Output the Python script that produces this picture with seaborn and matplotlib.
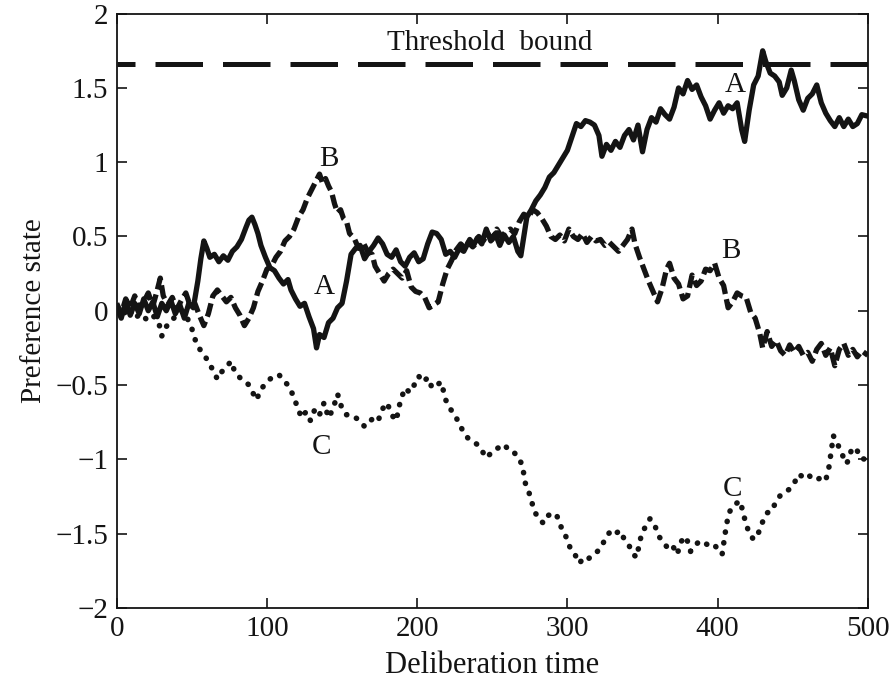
import matplotlib
matplotlib.use("Agg")
import matplotlib.pyplot as plt
import matplotlib.ticker as mticker
import seaborn as sns
import pandas as pd

# series (time, preference state)
t_a = [0, 3, 6, 9, 12, 15, 18, 21, 24, 27, 30, 33, 36, 39, 42, 45, 48, 51, 54, 56, 58, 60, 62, 65, 68,
       71, 74, 77, 80, 83, 86, 88, 90, 92, 94, 96, 99, 102, 105, 108, 111, 114, 116, 119, 122, 125, 128,
       131, 133, 135, 138, 141, 144, 147, 150, 153, 156, 159, 162, 165, 168, 171, 174, 177, 180, 183, 186,
       189, 192, 195, 198, 201, 204, 207, 210, 213, 216, 219, 222, 225, 228, 231, 234, 237, 240, 243, 246,
       249, 252, 255, 258, 261, 264, 267, 269, 271, 273, 276, 279, 282, 285, 288, 291, 294, 297, 300, 303,
       306, 309, 312, 315, 318, 321, 323, 326, 329, 332, 335, 338, 341, 344, 347, 350, 353, 356, 359, 362,
       365, 368, 371, 374, 377, 380, 383, 386, 389, 392, 395, 398, 401, 404, 407, 410, 413, 416, 418, 421,
       424, 427, 430, 432, 435, 438, 441, 443, 446, 449, 451, 454, 457, 460, 463, 466, 469, 472, 475, 478,
       481, 484, 487, 490, 493, 496, 500]
a_vals = [0.02, -0.05, 0.06, -0.03, 0.05, -0.02, 0.08, 0.0, 0.06, -0.04, 0.05, 0.0, 0.07, -0.02, 0.04,
          -0.05, 0.05, 0.02, 0.2, 0.35, 0.47, 0.42, 0.36, 0.38, 0.33, 0.37, 0.34, 0.40, 0.43, 0.48, 0.56,
          0.61, 0.63, 0.58, 0.52, 0.44, 0.36, 0.29, 0.27, 0.22, 0.18, 0.21, 0.14, 0.08, 0.03, 0.05, -0.04,
          -0.12, -0.25, -0.16, -0.18, -0.08, -0.05, 0.02, 0.05, 0.2, 0.38, 0.42, 0.44, 0.35, 0.40, 0.44,
          0.49, 0.45, 0.38, 0.36, 0.41, 0.33, 0.30, 0.36, 0.39, 0.33, 0.35, 0.45, 0.53, 0.52, 0.48, 0.38,
          0.40, 0.36, 0.42, 0.40, 0.46, 0.43, 0.49, 0.45, 0.55, 0.47, 0.52, 0.44, 0.51, 0.46, 0.50, 0.40,
          0.37, 0.50, 0.63, 0.68, 0.74, 0.78, 0.83, 0.90, 0.93, 0.98, 1.03, 1.08, 1.17, 1.26, 1.24, 1.28,
          1.27, 1.25, 1.18, 1.04, 1.12, 1.08, 1.14, 1.10, 1.18, 1.22, 1.15, 1.25, 1.07, 1.22, 1.30, 1.27,
          1.36, 1.32, 1.29, 1.37, 1.50, 1.46, 1.55, 1.49, 1.52, 1.44, 1.38, 1.29, 1.35, 1.40, 1.33, 1.38,
          1.36, 1.40, 1.22, 1.14, 1.35, 1.52, 1.58, 1.75, 1.68, 1.60, 1.58, 1.54, 1.45, 1.50, 1.62, 1.55,
          1.42, 1.35, 1.43, 1.46, 1.52, 1.40, 1.33, 1.28, 1.24, 1.30, 1.24, 1.29, 1.24, 1.26, 1.32, 1.31]

t_b = [0, 3, 6, 9, 12, 15, 18, 21, 24, 27, 29, 31, 34, 37, 40, 43, 46, 49, 52, 55, 58, 61, 64, 67, 70,
       73, 76, 79, 82, 85, 88, 91, 94, 97, 100, 103, 106, 109, 112, 115, 118, 121, 124, 127, 130, 133, 135,
       137, 139, 141, 143, 145, 147, 149, 151, 153, 155, 158, 161, 164, 167, 170, 172, 175, 178, 181, 184,
       187, 190, 193, 196, 199, 202, 205, 208, 211, 214, 217, 220, 223, 226, 229, 232, 235, 238, 241, 244,
       247, 250, 253, 256, 259, 262, 265, 268, 271, 274, 277, 280, 283, 286, 289, 292, 295, 298, 301, 304,
       307, 310, 313, 316, 319, 322, 325, 328, 331, 334, 337, 340, 343, 345, 348, 351, 354, 357, 360, 363,
       366, 368, 371, 374, 377, 380, 383, 386, 389, 392, 395, 398, 401, 404, 407, 410, 413, 416, 419, 422,
       425, 428, 430, 433, 436, 439, 442, 445, 448, 451, 454, 457, 460, 463, 466, 469, 472, 475, 478, 481,
       484, 487, 490, 493, 496, 500]
b_vals = [0.05, -0.02, 0.08, 0.02, 0.1, 0.01, 0.06, 0.12, 0.03, 0.14, 0.22, 0.1, 0.04, 0.09, 0.01, 0.07,
          0.12, 0.03, 0.05, -0.03, -0.1, -0.02, 0.1, 0.14, 0.1, 0.06, 0.09, 0.02, -0.03, -0.1, -0.05, 0.02,
          0.13, 0.2, 0.28, 0.3, 0.36, 0.40, 0.47, 0.5, 0.55, 0.63, 0.68, 0.76, 0.82, 0.88, 0.92, 0.86, 0.89,
          0.84, 0.80, 0.72, 0.66, 0.68, 0.62, 0.60, 0.52, 0.49, 0.42, 0.46, 0.40, 0.38, 0.30, 0.25, 0.2,
          0.25, 0.28, 0.25, 0.22, 0.27, 0.16, 0.13, 0.12, 0.09, 0.02, 0.04, 0.06, 0.18, 0.28, 0.34, 0.41,
          0.45, 0.42, 0.48, 0.44, 0.50, 0.47, 0.52, 0.48, 0.55, 0.50, 0.53, 0.55, 0.52, 0.60, 0.65, 0.63,
          0.68, 0.66, 0.62, 0.57, 0.50, 0.48, 0.51, 0.47, 0.55, 0.50, 0.48, 0.52, 0.46, 0.50, 0.47, 0.48,
          0.44, 0.46, 0.43, 0.40, 0.44, 0.48, 0.55, 0.45, 0.36, 0.28, 0.2, 0.13, 0.06, 0.15, 0.28, 0.32,
          0.22, 0.18, 0.08, 0.1, 0.24, 0.17, 0.20, 0.28, 0.27, 0.32, 0.22, 0.17, 0.02, 0.06, 0.12, 0.10,
          0.09, -0.01, -0.05, -0.15, -0.25, -0.14, -0.24, -0.20, -0.27, -0.30, -0.23, -0.28, -0.24, -0.30,
          -0.28, -0.34, -0.26, -0.22, -0.30, -0.25, -0.37, -0.26, -0.22, -0.30, -0.26, -0.31, -0.27, -0.30]

t_c = [0, 4, 8, 12, 16, 20, 24, 28, 30, 32, 35, 38, 41, 44, 47, 50, 53, 56, 59, 62, 65, 67, 70, 73, 76,
       79, 82, 85, 88, 91, 93, 96, 99, 102, 105, 108, 111, 114, 117, 120, 123, 126, 129, 132, 135, 138,
       141, 144, 147, 150, 153, 156, 159, 162, 165, 168, 171, 174, 177, 180, 183, 186, 189, 192, 195, 198,
       201, 204, 207, 210, 213, 216, 219, 222, 225, 228, 231, 234, 237, 240, 243, 246, 249, 252, 255, 258,
       261, 264, 267, 270, 272, 275, 278, 281, 284, 287, 290, 293, 296, 299, 302, 305, 308, 311, 314, 317,
       320, 323, 326, 329, 332, 335, 338, 341, 344, 346, 349, 352, 355, 358, 361, 364, 367, 370, 373, 376,
       379, 382, 385, 388, 391, 394, 397, 400, 403, 405, 407, 409, 412, 415, 418, 421, 424, 427, 430, 433,
       436, 439, 442, 445, 448, 451, 454, 457, 460, 463, 466, 469, 472, 474, 476, 477, 480, 483, 486, 489,
       492, 495, 498, 500]
c_vals = [0.0, -0.03, 0.02, -0.05, -0.02, -0.06, -0.03, -0.08, -0.17, -0.12, -0.08, -0.05, -0.02, 0.0,
          -0.05, -0.12, -0.22, -0.27, -0.31, -0.36, -0.42, -0.46, -0.41, -0.38, -0.34, -0.42, -0.45, -0.47,
          -0.50, -0.56, -0.60, -0.53, -0.49, -0.46, -0.44, -0.43, -0.47, -0.50, -0.56, -0.64, -0.72, -0.68,
          -0.74, -0.66, -0.70, -0.62, -0.72, -0.66, -0.56, -0.66, -0.70, -0.70, -0.72, -0.74, -0.78, -0.75,
          -0.72, -0.74, -0.66, -0.62, -0.70, -0.74, -0.60, -0.52, -0.55, -0.50, -0.44, -0.48, -0.45, -0.52,
          -0.50, -0.48, -0.60, -0.66, -0.70, -0.76, -0.82, -0.86, -0.88, -0.90, -0.94, -0.99, -0.96, -0.93,
          -0.92, -0.90, -0.94, -0.95, -0.98, -1.04, -1.16, -1.24, -1.35, -1.40, -1.43, -1.38, -1.36, -1.38,
          -1.46, -1.52, -1.60, -1.64, -1.70, -1.66, -1.67, -1.64, -1.62, -1.58, -1.52, -1.48, -1.50, -1.48,
          -1.54, -1.58, -1.64, -1.66, -1.52, -1.45, -1.40, -1.44, -1.52, -1.56, -1.60, -1.58, -1.64, -1.55,
          -1.52, -1.62, -1.58, -1.55, -1.56, -1.58, -1.57, -1.60, -1.64, -1.50, -1.38, -1.33, -1.30, -1.28,
          -1.40, -1.50, -1.54, -1.50, -1.42, -1.36, -1.35, -1.28, -1.24, -1.22, -1.20, -1.16, -1.10, -1.12,
          -1.10, -1.13, -1.14, -1.12, -1.14, -1.06, -0.92, -0.84, -0.90, -0.97, -1.03, -0.94, -0.92, -0.99,
          -1.0, -1.03]

threshold = 1.66
x_ticks = [0, 100, 200, 300, 400, 500]
y_ticks = [-2, -1.5, -1, -0.5, 0, 0.5, 1, 1.5, 2]

sns.set_style("ticks")
plt.rcParams['font.family'] = ['Liberation Serif', 'DejaVu Serif']
plt.rcParams['axes.unicode_minus'] = True

fig = plt.figure(figsize=(8.91, 6.83), dpi=100)
ax = fig.add_axes([0.131, 0.110, 0.843, 0.870])

df_a = pd.DataFrame({'t': t_a, 'v': a_vals})
df_b = pd.DataFrame({'t': t_b, 'v': b_vals})
df_c = pd.DataFrame({'t': t_c, 'v': c_vals})

ink = '#141414'
sns.lineplot(data=df_a, x='t', y='v', ax=ax, color=ink, lw=3.8, estimator=None, sort=False)
sns.lineplot(data=df_b, x='t', y='v', ax=ax, color=ink, lw=3.8, estimator=None, sort=False,
             linestyle=(0, (2.6, 1.0)))
sns.lineplot(data=df_c, x='t', y='v', ax=ax, color=ink, lw=4.0, estimator=None, sort=False,
             linestyle=(0, (0.05, 1.9)), dash_capstyle='round')

ax.axhline(threshold, color=ink, lw=3.6, linestyle=(5.9, (9.5, 4.0)))

txt = dict(fontsize=21, color=ink, ha='center', va='center')
ax.text(248, 1.80, 'Threshold  bound', **txt)
ax.text(412, 1.52, 'A', **txt)
ax.text(138, 0.16, 'A', **txt)
ax.text(141, 1.02, 'B', **txt)
ax.text(409, 0.40, 'B', **txt)
ax.text(136, -0.92, 'C', **txt)
ax.text(410, -1.20, 'C', **txt)

ax.set_xlim(0, 500)
ax.set_ylim(-2, 2)
ax.set_xticks(x_ticks)
ax.set_yticks(y_ticks)
ax.yaxis.set_major_formatter(mticker.FuncFormatter(lambda v, p: f"{v:g}".replace('-', '\u2212')))
ax.tick_params(direction='in', length=7, width=1.2, top=True, right=True, labelsize=21,
               colors=ink, pad=6)
for s in ax.spines.values():
    s.set_linewidth(1.3)
    s.set_color(ink)

ax.set_xlabel('Deliberation time', fontsize=22, color=ink, labelpad=6)
ax.set_ylabel('Preference state', fontsize=21, color=ink, labelpad=6)

fig.savefig('out.png', dpi=100)
